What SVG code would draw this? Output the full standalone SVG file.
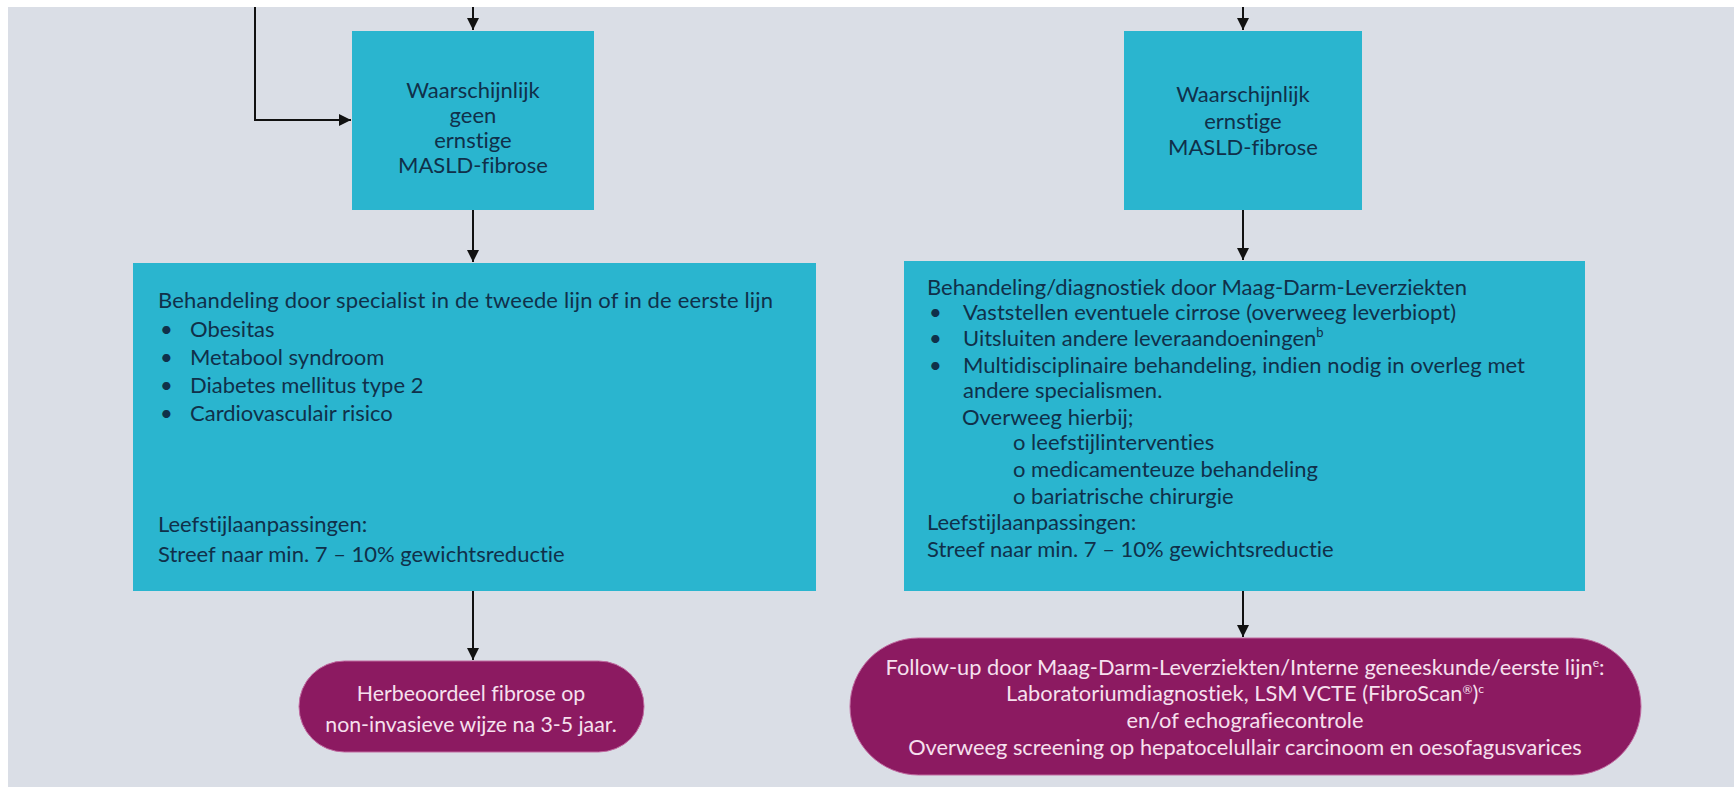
<svg xmlns="http://www.w3.org/2000/svg" width="1734" height="787" viewBox="0 0 1734 787">
<defs>
<marker id="ah" viewBox="0 0 10 10" refX="10" refY="5" markerWidth="12" markerHeight="12" markerUnits="userSpaceOnUse" orient="auto">
<path d="M0,0 L10,5 L0,10 Z" fill="#111"/>
</marker>
<style>
text{font-variant-ligatures:none;font-feature-settings:"liga" 0,"clig" 0,"dlig" 0;}
.box{fill:#2ab5cf;}
.pill{fill:#8c1a61;stroke:#c06aa0;stroke-width:1;}
.t{font-family:Lato,"Liberation Sans",sans-serif;font-size:22px;fill:#10304a;}
.c{text-anchor:middle;}
.p{font-family:Lato,"Liberation Sans",sans-serif;font-size:21.8px;fill:#f6e0ee;text-anchor:middle;}
.p2{font-size:21.3px;}
.conn{stroke:#111;stroke-width:2;fill:none;marker-end:url(#ah);}
</style>
</defs>
<rect x="0" y="0" width="1734" height="787" fill="#dadee6"/>
<rect x="0" y="0" width="1734" height="7" fill="#ffffff"/>
<rect x="0" y="0" width="8" height="787" fill="#ffffff"/>

<g id="connectors">
<path class="conn" d="M255,7 V120 H351"/>
<path class="conn" d="M473,7 V30"/>
<path class="conn" d="M473,210 V262"/>
<path class="conn" d="M473,591 V660"/>
<path class="conn" d="M1243,7 V30"/>
<path class="conn" d="M1243,210 V260"/>
<path class="conn" d="M1243,591 V637"/>
</g>

<g id="node-geen">
<rect class="box" x="352" y="31" width="242" height="179"/>
<text class="t c" x="473" y="98">Waarschijnlijk</text>
<text class="t c" x="473" y="123">geen</text>
<text class="t c" x="473" y="148">ernstige</text>
<text class="t c" x="473" y="173">MASLD-fibrose</text>
</g>

<g id="node-ernstig">
<rect class="box" x="1124" y="31" width="238" height="179"/>
<text class="t c" x="1243" y="102">Waarschijnlijk</text>
<text class="t c" x="1243" y="129">ernstige</text>
<text class="t c" x="1243" y="155">MASLD-fibrose</text>
</g>

<g id="node-behandeling-links">
<rect class="box" x="133" y="263" width="683" height="328"/>
<text class="t" x="158" y="308" textLength="615">Behandeling door specialist in de tweede lijn of in de eerste lijn</text>
<text class="t" x="160" y="337">•</text><text class="t" x="190" y="337">Obesitas</text>
<text class="t" x="160" y="365">•</text><text class="t" x="190" y="365">Metabool syndroom</text>
<text class="t" x="160" y="393">•</text><text class="t" x="190" y="393">Diabetes mellitus type 2</text>
<text class="t" x="160" y="421">•</text><text class="t" x="190" y="421">Cardiovasculair risico</text>
<text class="t" x="158" y="532">Leefstijlaanpassingen:</text>
<text class="t" x="158" y="562">Streef naar min. 7 – 10% gewichtsreductie</text>
</g>

<g id="node-behandeling-rechts">
<rect class="box" x="904" y="261" width="681" height="330"/>
<text class="t" x="927" y="295">Behandeling/diagnostiek door Maag-Darm-Leverziekten</text>
<text class="t" x="929" y="320">•</text><text class="t" x="963" y="320" textLength="493">Vaststellen eventuele cirrose (overweeg leverbiopt)</text>
<text class="t" x="929" y="346">•</text><text class="t" x="963" y="346">Uitsluiten andere leveraandoeningen<tspan font-size="13" dy="-9">b</tspan></text>
<text class="t" x="929" y="373">•</text><text class="t" x="963" y="373" textLength="562">Multidisciplinaire behandeling, indien nodig in overleg met</text>
<text class="t" x="963" y="398">andere specialismen.</text>
<text class="t" x="962" y="425">Overweeg hierbij;</text>
<text class="t" x="1013" y="450">o leefstijlinterventies</text>
<text class="t" x="1013" y="477">o medicamenteuze behandeling</text>
<text class="t" x="1013" y="504">o bariatrische chirurgie</text>
<text class="t" x="927" y="530">Leefstijlaanpassingen:</text>
<text class="t" x="927" y="557">Streef naar min. 7 – 10% gewichtsreductie</text>
</g>

<g id="node-herbeoordeel">
<rect class="pill" x="299" y="661" width="345" height="91" rx="45.5" ry="45.5"/>
<text class="p p2" x="471" y="701">Herbeoordeel fibrose op</text>
<text class="p p2" x="471" y="732">non-invasieve wijze na 3-5 jaar.</text>
</g>

<g id="node-followup">
<rect class="pill" x="850" y="638" width="791" height="137" rx="68.5" ry="68.5"/>
<text class="p" x="1245" y="675">Follow-up door Maag-Darm-Leverziekten/Interne geneeskunde/eerste lijn<tspan font-size="12" dy="-8">e</tspan><tspan dy="8">:</tspan></text>
<text class="p" x="1245" y="701">Laboratoriumdiagnostiek, LSM VCTE (FibroScan<tspan font-size="12" dy="-7">®</tspan><tspan dy="7">)</tspan><tspan font-size="12" dy="-8">c</tspan></text>
<text class="p" x="1245" y="728">en/of echografiecontrole</text>
<text class="p" x="1245" y="755">Overweeg screening op hepatocelullair carcinoom en oesofagusvarices</text>
</g>
</svg>
